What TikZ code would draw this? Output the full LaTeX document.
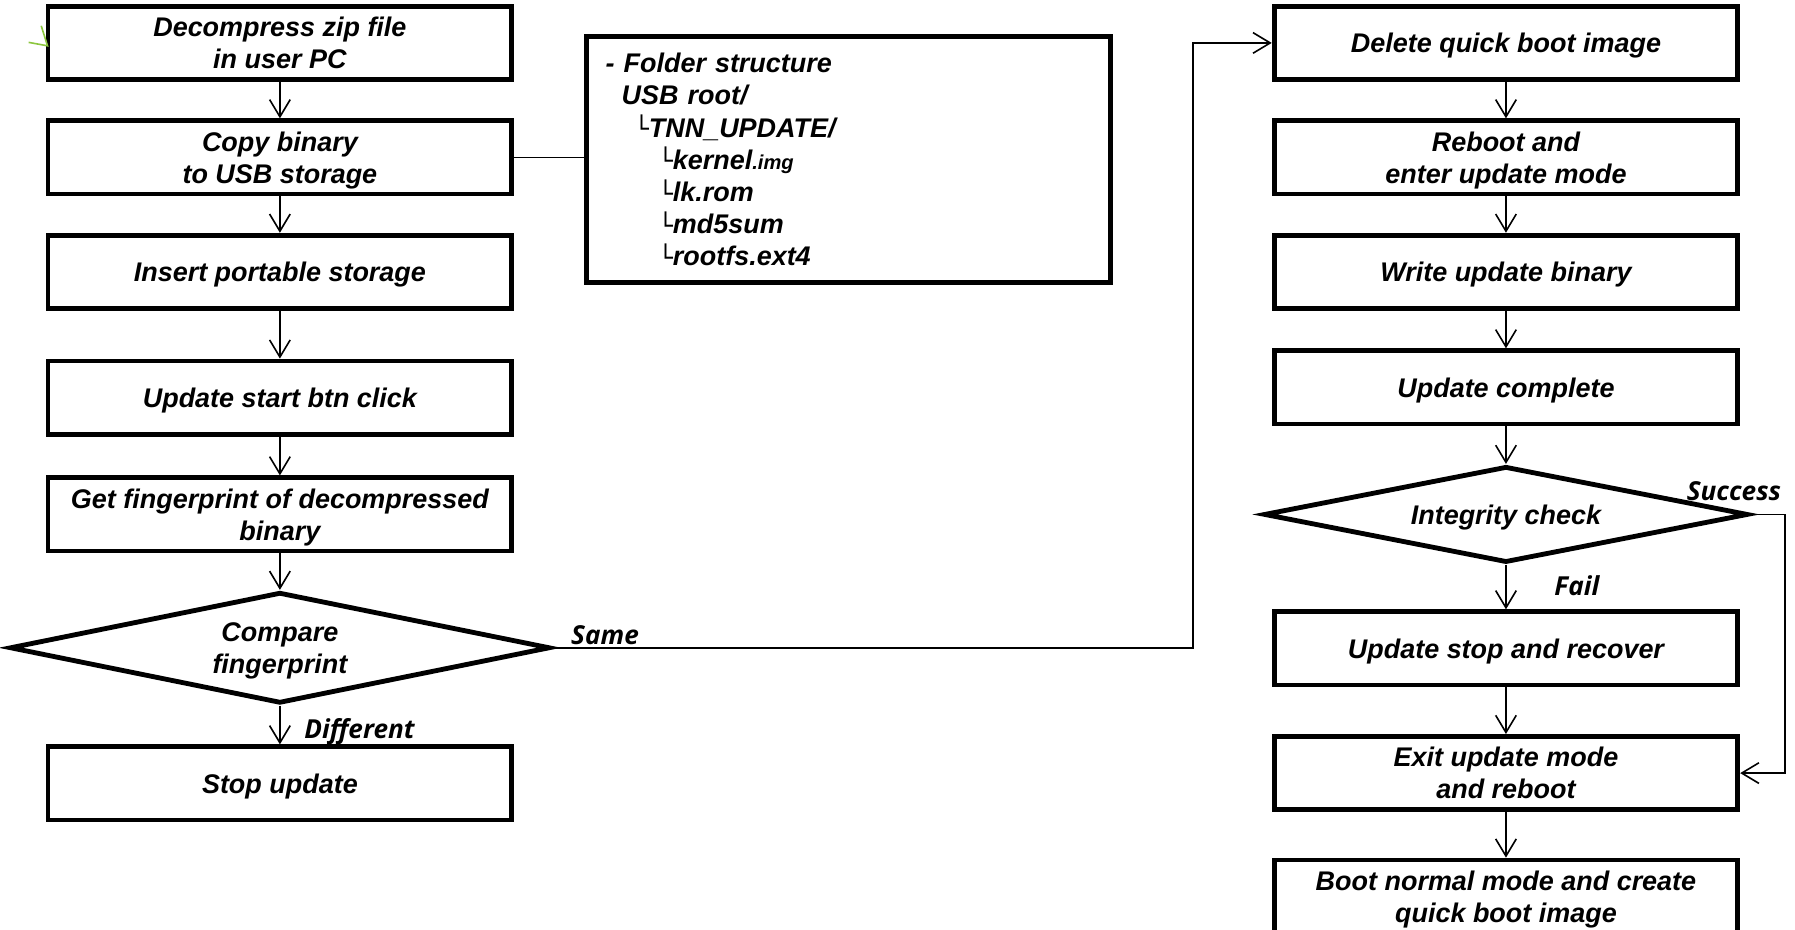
\documentclass[tikz,border=0pt]{standalone}
\usepackage{fontspec}
\setmainfont{Liberation Sans}
\newfontfamily\cornerfont{DejaVu Sans}
\newfontfamily\tagfont{Open Sans}
\usepackage{tikz}
\usetikzlibrary{arrows.meta,positioning,shapes.geometric}
\definecolor{inkblack}{HTML}{000000}
\definecolor{markgreen}{HTML}{8CC63F}
\newcommand{\boxtext}{\fontsize{13.4}{16}\selectfont\bfseries\itshape}
\newcommand{\treecorner}{\raisebox{-0.4pt}{\cornerfont\fontsize{12}{16}\selectfont\symbol{"2514}}}
\tikzset{
  stepbox/.style={
    rectangle, draw=inkblack, line width=2.4pt,
    minimum width=81mm, minimum height=12.8mm, text depth=0pt,
    align=center, inner sep=1pt, font=\boxtext
  },
  checknode/.style={
    diamond, draw=inkblack, line width=2.4pt, text depth=0pt,
    align=center, inner sep=0pt, font=\boxtext
  },
  folderbox/.style={
    rectangle, draw=inkblack, line width=2.4pt,
    minimum width=91.6mm, minimum height=43mm, text width=84.8mm,
    inner xsep=3.4mm, align=left, font=\boxtext
  },
  flowarrow/.style={-{Straight Barb[length=3mm,width=3.6mm]}, line width=0.8pt, color=inkblack},
  branchlabel/.style={inner sep=0pt, font=\tagfont\fontsize{13}{16}\selectfont\bfseries\itshape},
}
\begin{document}
\begin{tikzpicture}[node distance=6.35mm]
  \useasboundingbox (0,0) rectangle (313.6mm,-162.4mm);
  % left column
  \node[stepbox] (unzip) at (48.9mm,-7.5mm) {Decompress zip file\\in user PC};
  \node[stepbox, below=of unzip] (copy) {Copy binary\\to USB storage};
  \node[stepbox, below=of copy] (insert) {Insert portable storage};
  \node[stepbox, below=8.35mm of insert] (start) {Update start btn click};
  \node[stepbox, below=6.75mm of start] (finger) {Get fingerprint of decompressed\\binary};
  \node[checknode, aspect=4.9, minimum width=94.4mm, minimum height=19.4mm, below=of finger] (compare) {Compare\\fingerprint};
  \node[stepbox, below=6.75mm of compare] (stop) {Stop update};
  % folder layout on the stick
  \node[folderbox, anchor=north west] (folder) at (102mm,-6mm) {%
    - Folder structure\\
    \hspace*{2.8mm}USB root/\\
    \hspace*{5mm}\treecorner TNN\_UPDATE/\\
    \hspace*{9.2mm}\treecorner kernel{\fontsize{10}{16}\selectfont.img}\\
    \hspace*{9.2mm}\treecorner lk.rom\\
    \hspace*{9.2mm}\treecorner md5sum\\
    \hspace*{9.2mm}\treecorner rootfs.ext4};
  % right column
  \node[stepbox] (delimg) at (263.1mm,-7.5mm) {Delete quick boot image};
  \node[stepbox, below=of delimg] (reboot) {Reboot and\\enter update mode};
  \node[stepbox, below=of reboot] (write) {Write update binary};
  \node[stepbox, below=6.55mm of write] (done) {Update complete};
  \node[checknode, aspect=5, minimum width=84.6mm, minimum height=16.8mm, below=6.55mm of done] (integ) {Integrity check};
  \node[stepbox, below=7.75mm of integ] (recover) {Update stop and recover};
  \node[stepbox, below=8.15mm of recover] (exitmode) {Exit update mode\\and reboot};
  \node[stepbox, below=7.95mm of exitmode] (normal) {Boot normal mode and create\\quick boot image};

  % connectors
  \draw[flowarrow] (unzip) -- (copy);
  \draw[flowarrow] (copy) -- (insert);
  \draw[flowarrow] (insert) -- (start);
  \draw[flowarrow] (start) -- (finger);
  \draw[flowarrow] (finger) -- (compare);
  \draw[flowarrow] (compare) -- (stop);
  \draw[line width=0.8pt] (copy.east) -- (copy.east -| folder.west);
  \coordinate (jog) at (208.4mm,0);
  \draw[flowarrow] (compare.east) -- (compare.east -| jog) |- (delimg.west);
  \draw[flowarrow] (delimg) -- (reboot);
  \draw[flowarrow] (reboot) -- (write);
  \draw[flowarrow] (write) -- (done);
  \draw[flowarrow] (done) -- (integ);
  \draw[flowarrow] (integ) -- (recover);
  \draw[flowarrow] (recover) -- (exitmode);
  \draw[flowarrow] (exitmode) -- (normal);
  \draw[flowarrow] (integ.east) -- ++(6mm,0) |- (exitmode.east);

  % branch labels
  \node[branchlabel, anchor=base west] (same) at ([xshift=3.2mm,yshift=0.6mm]compare.east) {Same};
  \node[branchlabel, anchor=base west] (diff) at ([xshift=4.2mm,yshift=-5.8mm]compare.south) {Different};
  \node[branchlabel, anchor=base east] (succ) at ([xshift=5.4mm,yshift=2.4mm]integ.east) {Success};
  \node[branchlabel, anchor=base west] (fail) at ([xshift=8.4mm,yshift=-5.4mm]integ.south) {Fail};

  % stray green tick at the top left
  \coordinate (marktip) at (8.3mm,-8mm);
  \draw[markgreen, line width=0.8pt] (7.2mm,-4.5mm) -- (marktip) -- (5mm,-7.4mm);
\end{tikzpicture}
\end{document}
